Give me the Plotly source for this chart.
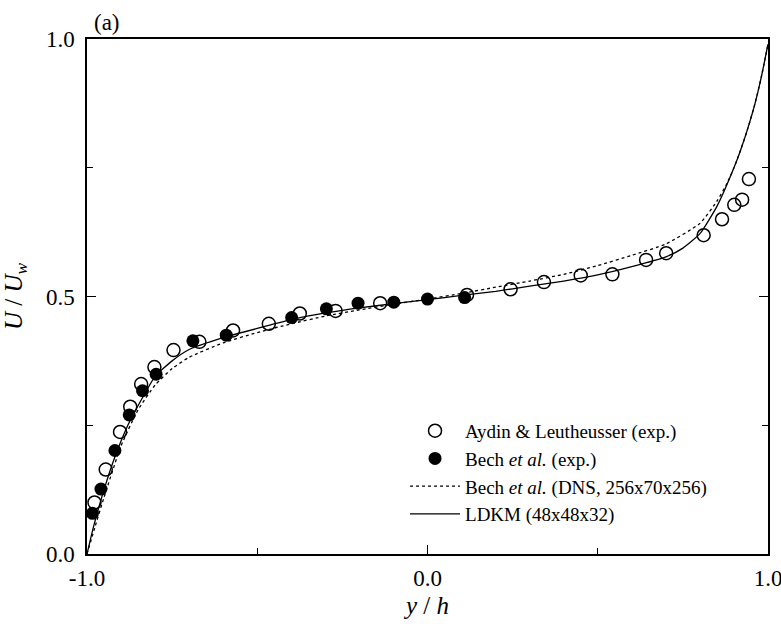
import plotly.graph_objects as go

# Aydin & Leutheusser (exp.) - open circles
aydin_x = [-0.978, -0.945, -0.903, -0.873, -0.841, -0.802, -0.746, -0.670, -0.571, -0.466,
           -0.375, -0.270, -0.139, 0.116, 0.244, 0.342, 0.450, 0.543, 0.642, 0.701,
           0.811, 0.865, 0.901, 0.924, 0.944]
aydin_y = [0.100, 0.164, 0.237, 0.286, 0.330, 0.363, 0.396, 0.412, 0.434, 0.447,
           0.467, 0.472, 0.487, 0.503, 0.514, 0.528, 0.541, 0.543, 0.571, 0.584,
           0.619, 0.650, 0.678, 0.688, 0.728]

# Bech et al. (exp.) - filled circles
bech_x = [-0.984, -0.959, -0.918, -0.876, -0.837, -0.797, -0.689, -0.591, -0.399,
          -0.297, -0.204, -0.099, 0.000, 0.109]
bech_y = [0.079, 0.126, 0.201, 0.270, 0.317, 0.349, 0.414, 0.425, 0.459,
          0.476, 0.487, 0.489, 0.495, 0.498]

# Bech et al. (DNS) - dotted line
dns_x = [-1.0, -0.98, -0.95, -0.9, -0.85, -0.8, -0.75, -0.7, -0.6, -0.5, -0.4, -0.3, -0.2,
         -0.1, 0.0, 0.1, 0.2, 0.3, 0.4, 0.5, 0.6, 0.7, 0.8, 0.85, 0.88, 0.9, 0.92, 0.94,
         0.96, 0.98, 1.0]
dns_y = [0.0, 0.045, 0.11, 0.21, 0.28, 0.328, 0.36, 0.382, 0.41, 0.43, 0.447, 0.462, 0.474,
         0.485, 0.495, 0.506, 0.518, 0.53, 0.543, 0.56, 0.58, 0.602, 0.642, 0.685, 0.72,
         0.75, 0.785, 0.825, 0.87, 0.925, 0.99]

# LDKM - solid line
ldkm_x = [-1.0, -0.98, -0.95, -0.92, -0.88, -0.84, -0.8, -0.75, -0.7, -0.6, -0.5, -0.4, -0.3,
          -0.2, -0.1, 0.0, 0.1, 0.2, 0.3, 0.4, 0.5, 0.6, 0.7, 0.75, 0.8, 0.85, 0.9, 0.92,
          0.94, 0.96, 0.98, 1.0]
ldkm_y = [0.0, 0.055, 0.125, 0.185, 0.25, 0.3, 0.345, 0.375, 0.397, 0.42, 0.438, 0.455, 0.468,
          0.478, 0.486, 0.494, 0.502, 0.51, 0.52, 0.53, 0.542, 0.558, 0.577, 0.594, 0.622, 0.675,
          0.75, 0.785, 0.825, 0.87, 0.925, 0.99]

x_ticks = [-1.0, 0.0, 1.0]
x_ticktext = ["-1.0", "0.0", "1.0"]
y_ticks = [0.0, 0.5, 1.0]
y_ticktext = ["0.0", "0.5", "1.0"]

serif = "Liberation Serif"

fig = go.Figure()
fig.add_trace(go.Scatter(
    x=aydin_x, y=aydin_y, mode="markers", name="Aydin &amp; Leutheusser (exp.)",
    marker=dict(symbol="circle-open", size=13, color="black", line=dict(width=1.5, color="black"))))
fig.add_trace(go.Scatter(
    x=bech_x, y=bech_y, mode="markers", name="Bech <i>et al.</i> (exp.)",
    marker=dict(symbol="circle", size=13, color="black")))
fig.add_trace(go.Scatter(
    x=dns_x, y=dns_y, mode="lines", name="Bech <i>et al.</i> (DNS, 256x70x256)",
    line=dict(color="black", width=1.3, dash="dot", shape="spline", smoothing=0.5)))
fig.add_trace(go.Scatter(
    x=ldkm_x, y=ldkm_y, mode="lines", name="LDKM (48x48x32)",
    line=dict(color="black", width=1.3, shape="spline", smoothing=0.5)))

fig.update_layout(
    width=781, height=624,
    margin=dict(l=87, r=13, t=39, b=70),
    paper_bgcolor="white", plot_bgcolor="white",
    font=dict(family=serif, color="black", size=20),
    legend=dict(x=0.467, y=0.276, xanchor="left", yanchor="top",
                bgcolor="rgba(0,0,0,0)", font=dict(family=serif, size=19),
                tracegroupgap=0, itemwidth=50),
    xaxis=dict(range=[-1, 1], tickvals=x_ticks, ticktext=x_ticktext,
               ticks="inside", ticklen=9, tickwidth=1.2, tickcolor="black",
               showline=True, linecolor="black", linewidth=1.5, mirror=True,
               showgrid=False, zeroline=False, ticklabeloverflow="allow", automargin=False,
               ticklabelstandoff=3,
               tickfont=dict(family=serif, size=23),
               minor=dict(tickvals=[-0.5, 0.5], ticks="inside", ticklen=6, tickcolor="black"),
               title=dict(text="<i>y</i> / <i>h</i>", font=dict(family=serif, size=25), standoff=6)),
    yaxis=dict(range=[0, 1], tickvals=y_ticks, ticktext=y_ticktext,
               ticks="inside", ticklen=9, tickwidth=1.2, tickcolor="black",
               showline=True, linecolor="black", linewidth=1.5, mirror="allticks",
               showgrid=False, zeroline=False, automargin=False,
               ticklabelstandoff=6,
               tickfont=dict(family=serif, size=23),
               minor=dict(tickvals=[0.25, 0.75], ticks="inside", ticklen=6, tickcolor="black"),
               title=dict(text="<i>U</i> / <i>U<sub>w</sub></i>", font=dict(family=serif, size=25), standoff=16)),
    annotations=[dict(text="(a)", x=0.03, y=1.0, xref="paper", yref="paper",
                      xanchor="center", yanchor="bottom", yshift=2, showarrow=False,
                      font=dict(family=serif, size=23))],
)

fig.write_html("out.html")
